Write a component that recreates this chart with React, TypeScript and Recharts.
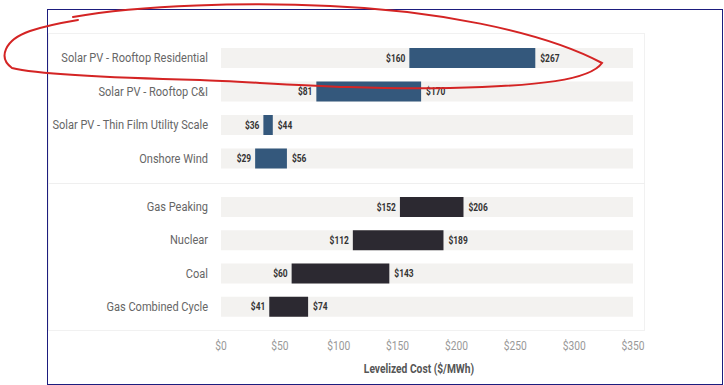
import { BarChart, Bar, XAxis, YAxis, LabelList } from "recharts"

// renewables (top group) and conventional (bottom group), $/MWh
const renewNames = [
  "Solar PV - Rooftop Residential",
  "Solar PV - Rooftop C&I",
  "Solar PV - Thin Film Utility Scale",
  "Onshore Wind",
]
const renewLow = [160, 81, 36, 29]
const renewHigh = [267, 170, 44, 56]

const convNames = ["Gas Peaking", "Nuclear", "Coal", "Gas Combined Cycle"]
const convLow = [152, 112, 60, 41]
const convHigh = [206, 189, 143, 74]

const xTicks = [0, 50, 100, 150, 200, 250, 300, 350]

const renewRows = renewNames.map((name, i) => ({ name, low: renewLow[i], high: renewHigh[i] }))
const convRows = convNames.map((name, i) => ({ name, low: convLow[i], high: convHigh[i] }))

// no condensed face installed, so Roboto gets squeezed horizontally
const FONT = "Roboto, 'Noto Sans', sans-serif"

const Narrow = ({ x, y, sx, children, ...rest }: any) => (
  <text transform={`translate(${x},${y}) scale(${sx},1)`} fontFamily={FONT} {...rest}>
    {children}
  </text>
)

// draws "$low" left of the bar and "$high" right of it
const rangeLabel = (rows: any[]) => (props: any) => {
  const { x, y, width, height, index } = props
  const row = rows[index]
  if (!row) return null
  const cy = y + height / 2 + 3.7
  return (
    <g>
      <Narrow x={x - 4} y={cy} sx={0.8} textAnchor="end" fontSize={10.5} fontWeight="bold" fill="#333">
        {`$${row.low}`}
      </Narrow>
      <Narrow x={x + width + 5} y={cy} sx={0.8} textAnchor="start" fontSize={10.5} fontWeight="bold" fill="#333">
        {`$${row.high}`}
      </Narrow>
    </g>
  )
}

const CatTick = (props: any) => {
  const { x, y, payload } = props
  return (
    <Narrow x={x} y={y + 4.6} sx={0.85} textAnchor="end" fontSize={13} fill="#666">
      {payload.value}
    </Narrow>
  )
}

const CostTick = (props: any) => {
  const { x, y, payload } = props
  return (
    <Narrow x={x} y={y + 9} sx={0.82} textAnchor="middle" fontSize={12.5} fill="#999">
      {`$${payload.value}`}
    </Narrow>
  )
}

const AxisTitle = (props: any) => {
  const { x, y, width, height } = props.viewBox
  return (
    <Narrow x={x + width / 2 - 8} y={y + height} sx={0.82} textAnchor="middle" fontSize={12.5} fontWeight="bold" fill="#555">
      Levelized Cost ($/MWh)
    </Narrow>
  )
}

export default function App() {
  return (
    <div style={{ position: "absolute", left: 0, top: 0, width: 724, height: 385, background: "#fff", overflow: "hidden" }}>
      {/* faint panel and group divider */}
      <div style={{ position: "absolute", left: 48, top: 33, width: 597, height: 298, border: "1px solid #f1f1f1", boxSizing: "border-box" }} />
      <div style={{ position: "absolute", left: 48, top: 183, width: 597, height: 1, background: "#efefef" }} />

      <div style={{ position: "absolute", left: 0, top: 0 }}>
        <BarChart width={724} height={175} data={renewRows} layout="vertical" margin={{ top: 41, right: 91, left: 0, bottom: 0 }}>
          <XAxis type="number" domain={[0, 350]} ticks={xTicks} hide />
          <YAxis type="category" dataKey="name" width={221} axisLine={false} tickLine={false} tickSize={0} tickMargin={13} interval={0} tick={<CatTick />} />
          <Bar dataKey={(d: any) => [d.low, d.high]} barSize={20} fill="#34587c" background={{ fill: "#f3f2f0" }} isAnimationActive={false}>
            <LabelList content={rangeLabel(renewRows)} />
          </Bar>
        </BarChart>
      </div>

      <div style={{ position: "absolute", left: 0, top: 0 }}>
        <BarChart width={724} height={385} data={convRows} layout="vertical" margin={{ top: 190, right: 91, left: 0, bottom: 12 }}>
          <XAxis
            type="number"
            domain={[0, 350]}
            ticks={xTicks}
            axisLine={false}
            tickLine={false}
            tickSize={0}
            tickMargin={18}
            height={50}
            tick={<CostTick />}
            label={<AxisTitle />}
          />
          <YAxis type="category" dataKey="name" width={221} axisLine={false} tickLine={false} tickSize={0} tickMargin={13} interval={0} tick={<CatTick />} />
          <Bar dataKey={(d: any) => [d.low, d.high]} barSize={20} fill="#2c2931" background={{ fill: "#f3f2f0" }} isAnimationActive={false}>
            <LabelList content={rangeLabel(convRows)} />
          </Bar>
        </BarChart>
      </div>

      {/* blue frame */}
      <div style={{ position: "absolute", left: 47, top: 9, width: 676, height: 376, border: "1.5px solid #1d1d7e", boxSizing: "border-box", pointerEvents: "none" }} />

      {/* hand-drawn red circle around the first row */}
      <svg width={724} height={385} style={{ position: "absolute", left: 0, top: 0, pointerEvents: "none" }}>
        <path
          d="M 73,17 C 140,5 250,2 330,6 C 430,10 540,30 602,63 C 590,80 540,86 450,88 C 350,90 260,82 200,80 C 120,78 40,75 12,68 C -2,58 4,40 30,31 C 45,26 60,23 78,20"
          fill="none"
          stroke="#d42424"
          strokeWidth={2}
          strokeLinecap="round"
        />
      </svg>
    </div>
  )
}
